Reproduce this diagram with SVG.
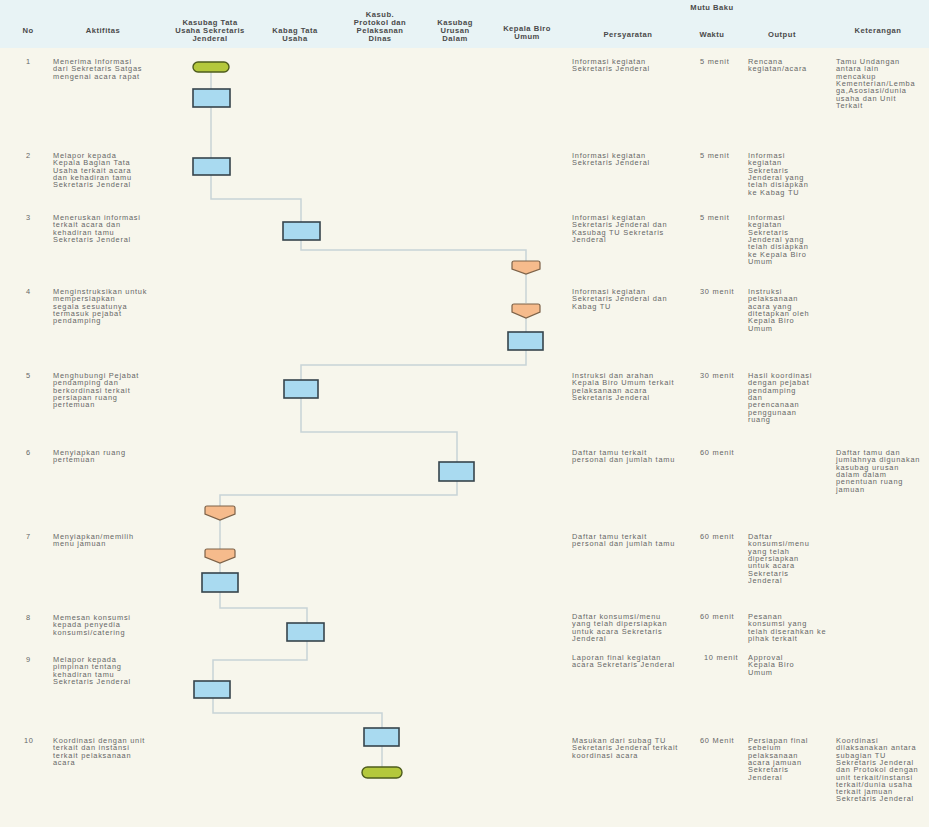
<svg xmlns="http://www.w3.org/2000/svg" width="929" height="827" viewBox="0 0 929 827">
<style>
.bg{fill:#f7f6ec}
.hdr{fill:#e8f3f5}
.h{font-family:"Liberation Sans",Arial,sans-serif;font-size:7.6px;font-weight:bold;letter-spacing:0.5px;fill:#4a4a4a;text-anchor:middle}
.t{font-family:"Liberation Sans",Arial,sans-serif;font-size:7.4px;letter-spacing:0.75px;fill:#666}
.box{fill:#a9daf0;stroke:#36444c;stroke-width:1.6}
.off{fill:#f6bb8c;stroke:#7d6248;stroke-width:1.2}
.term{fill:#b4c83c;stroke:#4e5c1c;stroke-width:1.4}
.con{fill:none;stroke:#c8d3d6;stroke-width:1.5}
</style>
<rect class="bg" x="0" y="0" width="929" height="827"/>
<rect class="hdr" x="0" y="0" width="929" height="48"/>

<g id="header">
<text class="h" x="28" y="33">No</text>
<text class="h" x="103" y="33">Aktifitas</text>
<text class="h" x="210" y="25">Kasubag Tata<tspan x="210" dy="8">Usaha Sekretaris</tspan><tspan x="210" dy="8">Jenderal</tspan></text>
<text class="h" x="295" y="33">Kabag Tata<tspan x="295" dy="8">Usaha</tspan></text>
<text class="h" x="380" y="17">Kasub.<tspan x="380" dy="8">Protokol dan</tspan><tspan x="380" dy="8">Pelaksanan</tspan><tspan x="380" dy="8">Dinas</tspan></text>
<text class="h" x="455" y="25">Kasubag<tspan x="455" dy="8">Urusan</tspan><tspan x="455" dy="8">Dalam</tspan></text>
<text class="h" x="527" y="31">Kepala Biro<tspan x="527" dy="8">Umum</tspan></text>
<text class="h" x="712" y="10">Mutu Baku</text>
<text class="h" x="628" y="37">Persyaratan</text>
<text class="h" x="712" y="37">Waktu</text>
<text class="h" x="782" y="37">Output</text>
<text class="h" x="878" y="33">Keterangan</text>
</g>

<g id="connectors">
<path class="con" d="M211,72 V89"/>
<path class="con" d="M211,107 V158"/>
<path class="con" d="M211,175 V199 H301 V222"/>
<path class="con" d="M301,240 V250 H526 V261"/>
<path class="con" d="M526,273 V303"/>
<path class="con" d="M526,318 V332"/>
<path class="con" d="M526,350 V365 H301 V380"/>
<path class="con" d="M301,398 V432 H457 V462"/>
<path class="con" d="M457,481 V495 H220 V506"/>
<path class="con" d="M220,519 V549"/>
<path class="con" d="M220,563 V573"/>
<path class="con" d="M220,592 V608 H307 V623"/>
<path class="con" d="M307,641 V660 H213 V681"/>
<path class="con" d="M213,698 V713 H382 V728"/>
<path class="con" d="M382,746 V767"/>
</g>

<g id="start"><rect class="term" x="193" y="62" width="36" height="10" rx="5"/></g>
<g id="n1"><rect class="box" x="193" y="89" width="37" height="18"/></g>
<g id="n2"><rect class="box" x="193" y="158" width="37" height="17"/></g>
<g id="n3"><rect class="box" x="283" y="222" width="37" height="18"/></g>
<g id="o1"><path class="off" d="M512,263 Q512,261 514,261 H538 Q540,261 540,263 V269 L526,274 L512,269 Z"/></g>
<g id="o2"><path class="off" d="M512,306 Q512,304 514,304 H538 Q540,304 540,306 V312 L526,318 L512,312 Z"/></g>
<g id="n4"><rect class="box" x="508" y="332" width="35" height="18"/></g>
<g id="n5"><rect class="box" x="284" y="380" width="34" height="18"/></g>
<g id="n6"><rect class="box" x="439" y="462" width="35" height="19"/></g>
<g id="o3"><path class="off" d="M205,508 Q205,506 207,506 H233 Q235,506 235,508 V514 L220,520 L205,514 Z"/></g>
<g id="o4"><path class="off" d="M205,551 Q205,549 207,549 H233 Q235,549 235,551 V557 L220,563 L205,557 Z"/></g>
<g id="n7"><rect class="box" x="202" y="573" width="36" height="19"/></g>
<g id="n8"><rect class="box" x="287" y="623" width="37" height="18"/></g>
<g id="n9"><rect class="box" x="194" y="681" width="36" height="17"/></g>
<g id="n10"><rect class="box" x="364" y="728" width="35" height="18"/></g>
<g id="end"><rect class="term" x="362" y="767" width="40" height="11" rx="5.5"/></g>

<g id="row1">
<text class="t" x="26" y="64">1</text>
<text class="t" x="53" y="64">Menerima Informasi<tspan x="53" dy="7.3">dari Sekretaris Satgas</tspan><tspan x="53" dy="7.3">mengenai acara rapat</tspan></text>
<text class="t" x="572" y="64">Informasi kegiatan<tspan x="572" dy="7.3">Sekretaris Jenderal</tspan></text>
<text class="t" x="700" y="64">5 menit</text>
<text class="t" x="748" y="64">Rencana<tspan x="748" dy="7.3">kegiatan/acara</tspan></text>
<text class="t" x="836" y="64">Tamu Undangan<tspan x="836" dy="7.3">antara lain</tspan><tspan x="836" dy="7.3">mencakup</tspan><tspan x="836" dy="7.3">Kementerian/Lemba</tspan><tspan x="836" dy="7.3">ga,Asosiasi/dunia</tspan><tspan x="836" dy="7.3">usaha dan Unit</tspan><tspan x="836" dy="7.3">Terkait</tspan></text>
</g>
<g id="row2">
<text class="t" x="26" y="158">2</text>
<text class="t" x="53" y="158">Melapor kepada<tspan x="53" dy="7.3">Kepala Bagian Tata</tspan><tspan x="53" dy="7.3">Usaha terkait acara</tspan><tspan x="53" dy="7.3">dan kehadiran tamu</tspan><tspan x="53" dy="7.3">Sekretaris Jenderal</tspan></text>
<text class="t" x="572" y="158">Informasi kegiatan<tspan x="572" dy="7.3">Sekretaris Jenderal</tspan></text>
<text class="t" x="700" y="158">5 menit</text>
<text class="t" x="748" y="158">Informasi<tspan x="748" dy="7.3">kegiatan</tspan><tspan x="748" dy="7.3">Sekretaris</tspan><tspan x="748" dy="7.3">Jenderal yang</tspan><tspan x="748" dy="7.3">telah disiapkan</tspan><tspan x="748" dy="7.3">ke Kabag TU</tspan></text>
</g>
<g id="row3">
<text class="t" x="26" y="220">3</text>
<text class="t" x="53" y="220">Meneruskan informasi<tspan x="53" dy="7.3">terkait acara dan</tspan><tspan x="53" dy="7.3">kehadiran tamu</tspan><tspan x="53" dy="7.3">Sekretaris Jenderal</tspan></text>
<text class="t" x="572" y="220">Informasi kegiatan<tspan x="572" dy="7.3">Sekretaris Jenderal dan</tspan><tspan x="572" dy="7.3">Kasubag TU Sekretaris</tspan><tspan x="572" dy="7.3">Jenderal</tspan></text>
<text class="t" x="700" y="220">5 menit</text>
<text class="t" x="748" y="220">Informasi<tspan x="748" dy="7.3">kegiatan</tspan><tspan x="748" dy="7.3">Sekretaris</tspan><tspan x="748" dy="7.3">Jenderal yang</tspan><tspan x="748" dy="7.3">telah disiapkan</tspan><tspan x="748" dy="7.3">ke Kepala Biro</tspan><tspan x="748" dy="7.3">Umum</tspan></text>
</g>
<g id="row4">
<text class="t" x="26" y="294">4</text>
<text class="t" x="53" y="294">Menginstruksikan untuk<tspan x="53" dy="7.3">mempersiapkan</tspan><tspan x="53" dy="7.3">segala sesuatunya</tspan><tspan x="53" dy="7.3">termasuk pejabat</tspan><tspan x="53" dy="7.3">pendamping</tspan></text>
<text class="t" x="572" y="294">Informasi kegiatan<tspan x="572" dy="7.3">Sekretaris Jenderal dan</tspan><tspan x="572" dy="7.3">Kabag TU</tspan></text>
<text class="t" x="700" y="294">30 menit</text>
<text class="t" x="748" y="294">Instruksi<tspan x="748" dy="7.3">pelaksanaan</tspan><tspan x="748" dy="7.3">acara yang</tspan><tspan x="748" dy="7.3">ditetapkan oleh</tspan><tspan x="748" dy="7.3">Kepala Biro</tspan><tspan x="748" dy="7.3">Umum</tspan></text>
</g>
<g id="row5">
<text class="t" x="26" y="378">5</text>
<text class="t" x="53" y="378">Menghubungi Pejabat<tspan x="53" dy="7.3">pendamping dan</tspan><tspan x="53" dy="7.3">berkordinasi terkait</tspan><tspan x="53" dy="7.3">persiapan ruang</tspan><tspan x="53" dy="7.3">pertemuan</tspan></text>
<text class="t" x="572" y="378">Instruksi dan arahan<tspan x="572" dy="7.3">Kepala Biro Umum terkait</tspan><tspan x="572" dy="7.3">pelaksanaan acara</tspan><tspan x="572" dy="7.3">Sekretaris Jenderal</tspan></text>
<text class="t" x="700" y="378">30 menit</text>
<text class="t" x="748" y="378">Hasil koordinasi<tspan x="748" dy="7.3">dengan pejabat</tspan><tspan x="748" dy="7.3">pendamping</tspan><tspan x="748" dy="7.3">dan</tspan><tspan x="748" dy="7.3">perencanaan</tspan><tspan x="748" dy="7.3">penggunaan</tspan><tspan x="748" dy="7.3">ruang</tspan></text>
</g>
<g id="row6">
<text class="t" x="26" y="455">6</text>
<text class="t" x="53" y="455">Menyiapkan ruang<tspan x="53" dy="7.3">pertemuan</tspan></text>
<text class="t" x="572" y="455">Daftar tamu terkait<tspan x="572" dy="7.3">personal dan jumlah tamu</tspan></text>
<text class="t" x="700" y="455">60 menit</text>
<text class="t" x="836" y="455">Daftar tamu dan<tspan x="836" dy="7.3">jumlahnya digunakan</tspan><tspan x="836" dy="7.3">kasubag urusan</tspan><tspan x="836" dy="7.3">dalam dalam</tspan><tspan x="836" dy="7.3">penentuan ruang</tspan><tspan x="836" dy="7.3">jamuan</tspan></text>
</g>
<g id="row7">
<text class="t" x="26" y="539">7</text>
<text class="t" x="53" y="539">Menyiapkan/memilih<tspan x="53" dy="7.3">menu jamuan</tspan></text>
<text class="t" x="572" y="539">Daftar tamu terkait<tspan x="572" dy="7.3">personal dan jumlah tamu</tspan></text>
<text class="t" x="700" y="539">60 menit</text>
<text class="t" x="748" y="539">Daftar<tspan x="748" dy="7.3">konsumsi/menu</tspan><tspan x="748" dy="7.3">yang telah</tspan><tspan x="748" dy="7.3">dipersiapkan</tspan><tspan x="748" dy="7.3">untuk acara</tspan><tspan x="748" dy="7.3">Sekretaris</tspan><tspan x="748" dy="7.3">Jenderal</tspan></text>
</g>
<g id="row8">
<text class="t" x="26" y="620">8</text>
<text class="t" x="53" y="620">Memesan konsumsi<tspan x="53" dy="7.3">kepada penyedia</tspan><tspan x="53" dy="7.3">konsumsi/catering</tspan></text>
<text class="t" x="572" y="619">Daftar konsumsi/menu<tspan x="572" dy="7.3">yang telah dipersiapkan</tspan><tspan x="572" dy="7.3">untuk acara Sekretaris</tspan><tspan x="572" dy="7.3">Jenderal</tspan></text>
<text class="t" x="700" y="619">60 menit</text>
<text class="t" x="748" y="619">Pesanan<tspan x="748" dy="7.3">konsumsi yang</tspan><tspan x="748" dy="7.3">telah diserahkan ke</tspan><tspan x="748" dy="7.3">pihak terkait</tspan></text>
</g>
<g id="row9">
<text class="t" x="26" y="662">9</text>
<text class="t" x="53" y="662">Melapor kepada<tspan x="53" dy="7.3">pimpinan tentang</tspan><tspan x="53" dy="7.3">kehadiran tamu</tspan><tspan x="53" dy="7.3">Sekretaris Jenderal</tspan></text>
<text class="t" x="572" y="660">Laporan final kegiatan<tspan x="572" dy="7.3">acara Sekretaris Jenderal</tspan></text>
<text class="t" x="704" y="660">10 menit</text>
<text class="t" x="748" y="660">Approval<tspan x="748" dy="7.3">Kepala Biro</tspan><tspan x="748" dy="7.3">Umum</tspan></text>
</g>
<g id="row10">
<text class="t" x="24" y="743">10</text>
<text class="t" x="53" y="743">Koordinasi dengan unit<tspan x="53" dy="7.3">terkait dan instansi</tspan><tspan x="53" dy="7.3">terkait pelaksanaan</tspan><tspan x="53" dy="7.3">acara</tspan></text>
<text class="t" x="572" y="743">Masukan dari subag TU<tspan x="572" dy="7.3">Sekretaris Jenderal terkait</tspan><tspan x="572" dy="7.3">koordinasi acara</tspan></text>
<text class="t" x="700" y="743">60 Menit</text>
<text class="t" x="748" y="743">Persiapan final<tspan x="748" dy="7.3">sebelum</tspan><tspan x="748" dy="7.3">pelaksanaan</tspan><tspan x="748" dy="7.3">acara jamuan</tspan><tspan x="748" dy="7.3">Sekretaris</tspan><tspan x="748" dy="7.3">Jenderal</tspan></text>
<text class="t" x="836" y="743">Koordinasi<tspan x="836" dy="7.3">dilaksanakan antara</tspan><tspan x="836" dy="7.3">subagian TU</tspan><tspan x="836" dy="7.3">Sekretaris Jenderal</tspan><tspan x="836" dy="7.3">dan Protokol dengan</tspan><tspan x="836" dy="7.3">unit terkait/instansi</tspan><tspan x="836" dy="7.3">terkait/dunia usaha</tspan><tspan x="836" dy="7.3">terkait jamuan</tspan><tspan x="836" dy="7.3">Sekretaris Jenderal</tspan></text>
</g>
</svg>
